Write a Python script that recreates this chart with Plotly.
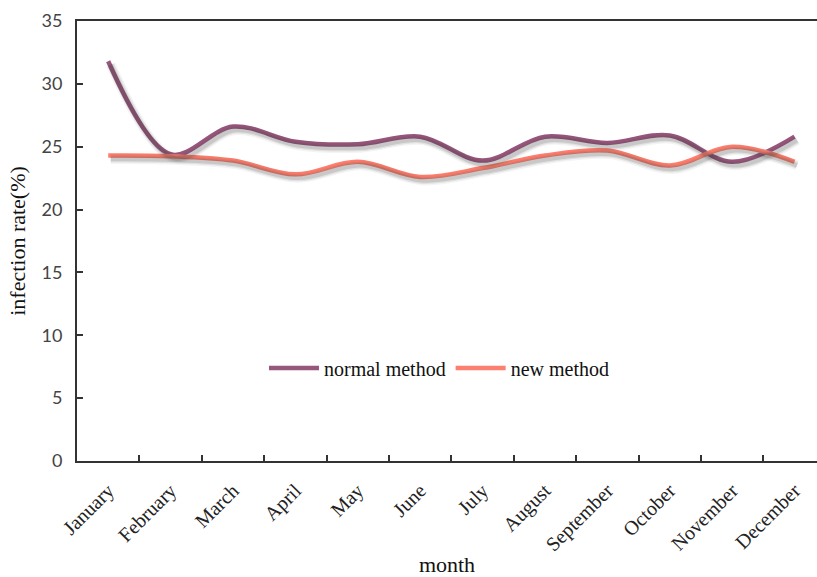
import plotly.graph_objects as go

months = ["January", "February", "March", "April", "May", "June", "July",
          "August", "September", "October", "November", "December"]
normal_method = [31.8, 24.4, 26.6, 25.4, 25.2, 25.8, 23.9, 25.8, 25.3, 25.9, 23.8, 25.8]
new_method = [24.3, 24.25, 23.9, 22.8, 23.8, 22.6, 23.3, 24.3, 24.7, 23.5, 25.0, 23.8]

PURPLE = "#98567C"
SALMON = "#FF7F6E"
SERIF = "Liberation Serif"

W, H = 817, 577
L, R, T, B = 77, 0, 21, 116
x_range = [-0.5, 11.36]
y_range = [0, 35]
px_per_cat = (W - L - R) / (x_range[1] - x_range[0])
px_per_unit = (H - T - B) / (y_range[1] - y_range[0])

# soft drop shadow: same series on an overlay axis pair shifted a few pixels
dx, dy = 2.5, 3.5
sx_range = [x_range[0] - dx / px_per_cat, x_range[1] - dx / px_per_cat]
sy_range = [y_range[0] + dy / px_per_unit, y_range[1] + dy / px_per_unit]

fig = go.Figure()
for vals in (normal_method, new_method):
    for w, a in ((10, 0.06), (7, 0.10), (4.5, 0.15)):
        fig.add_trace(go.Scatter(
            x=months, y=vals, xaxis="x2", yaxis="y2", mode="lines",
            line=dict(color=f"rgba(60,60,60,{a})", width=w, shape="spline", smoothing=1),
            showlegend=False, hoverinfo="skip"))

fig.add_trace(go.Scatter(x=months, y=normal_method, name="normal method", mode="lines",
                         line=dict(color=PURPLE, width=4.5, shape="spline", smoothing=1)))
fig.add_trace(go.Scatter(x=months, y=new_method, name="new method", mode="lines",
                         line=dict(color=SALMON, width=4.5, shape="spline", smoothing=1)))

fig.update_layout(
    width=W, height=H,
    margin=dict(l=L, r=R, t=T, b=B),
    plot_bgcolor="white", paper_bgcolor="white",
    showlegend=True,
    legend=dict(orientation="h", x=(264 - L) / (W - L), xanchor="left",
                y=(461 - 368) / (H - T - B), yanchor="middle",
                font=dict(family=SERIF, size=20, color="#111"),
                itemwidth=50, tracegroupgap=0, bgcolor="rgba(0,0,0,0)"),
    xaxis=dict(type="category", categoryorder="array", categoryarray=months,
               range=x_range, showline=True, linecolor="#333", linewidth=2,
               mirror=True, ticks="inside", tickson="boundaries", ticklen=6,
               tickwidth=1.5, tickcolor="#333", tickangle=-45, showgrid=False,
               ticklabelstandoff=8, automargin=False,
               tickfont=dict(family=SERIF, size=20, color="#222"),
               title=dict(text="month", font=dict(family=SERIF, size=22, color="#111"), standoff=8),
               fixedrange=True),
    yaxis=dict(range=y_range, dtick=5, showline=True, linecolor="#333", linewidth=2,
               ticks="inside", ticklen=6, tickwidth=1.5, tickcolor="#333",
               showgrid=False, zeroline=False, ticklabelstandoff=9, automargin=False,
               tickfont=dict(family="Lato", size=18, color="#444"),
               title=dict(text="infection rate(%)", font=dict(family=SERIF, size=22, color="#111"), standoff=10)),
    xaxis2=dict(type="category", categoryorder="array", categoryarray=months,
                range=sx_range, overlaying="x", visible=False),
    yaxis2=dict(range=sy_range, overlaying="y", visible=False),
)

fig.write_html("out.html")
